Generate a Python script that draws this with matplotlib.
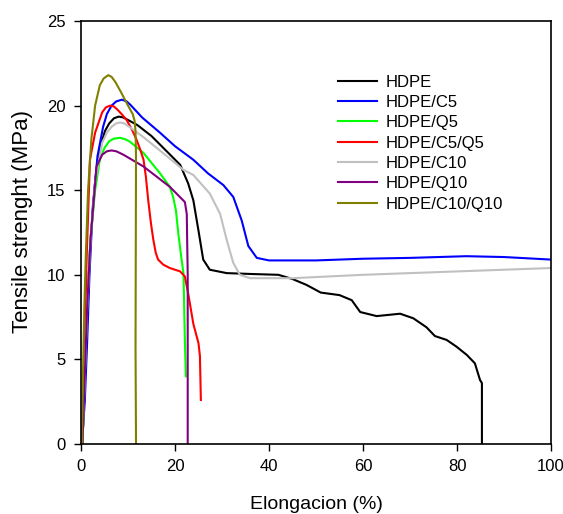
import matplotlib.pyplot as plt
import numpy as np

plt.rcParams['font.family'] = ['Liberation Sans', 'DejaVu Sans']

# curve data (elongation %, tensile MPa)
hdpe_x = [0.3, 0.8, 1.3, 2.0, 3.0, 4.0, 5.1, 6.0, 7.0, 8.0, 9.0, 10, 12, 15, 16.8, 21.1, 22.8, 23.9, 25, 26, 27.4, 31,
          36, 42, 45, 48, 51, 55, 57.6, 59.4, 62.9, 67.9, 70.7, 73.5, 75.3, 77.8, 79.9, 82.1, 83.8, 84.9, 85.3, 85.3]
hdpe_y = [0, 4, 8, 12, 15.5, 17.5, 18.5, 18.95, 19.25, 19.35, 19.3, 19.15, 18.85, 18.2, 17.7, 16.5, 15.4, 14.4, 12.6,
          10.9, 10.3, 10.1, 10.05, 10.0, 9.75, 9.4, 8.95, 8.8, 8.5, 7.8, 7.56, 7.7, 7.43, 6.9, 6.38, 6.15, 5.75, 5.26,
          4.77, 3.78, 3.6, 0]

c5_x = [0.2, 0.8, 1.3, 1.8, 2.5, 3.5, 4.7, 5.5, 6.5, 7.5, 8.7, 9.7, 10.5, 12, 13, 16.8, 20, 23.9, 27, 30.3, 32.4,
        34.2, 35.6, 37.4, 40, 50, 60, 70, 82, 90, 100]
c5_y = [0, 2.5, 6, 10, 14, 17, 18.75, 19.5, 20.0, 20.25, 20.35, 20.25, 20.05, 19.6, 19.3, 18.4, 17.6, 16.8, 16.0, 15.3,
        14.6, 13.2, 11.7, 11.0, 10.85, 10.85, 10.95, 11.0, 11.1, 11.05, 10.9]

q5_x = [0.3, 0.8, 1.3, 2.0, 3.0, 4.0, 5.0, 6.0, 7.0, 8.3, 9.5, 10.5, 13.3, 16.8, 18.9, 19.6, 20.2, 20.7, 21.4, 21.8,
        22.1, 22.3]
q5_y = [0, 4, 8, 12, 15, 16.8, 17.5, 17.9, 18.05, 18.1, 18.0, 17.85, 17.2, 16.0, 15.2, 14.6, 13.8, 12.45, 10.9, 10.1,
        6.1, 4.0]

c5q5_x = [0.3, 0.7, 1.2, 1.9, 3.0, 4.5, 5.3, 6.2, 7.0, 7.8, 8.8, 9.7, 10.8, 11.8, 12.6, 13.3, 13.8, 14.3, 14.9, 15.4,
          15.9, 16.4, 17.5, 18.9, 21.1, 22.1, 22.8, 23.9, 25, 25.3, 25.5]
c5q5_y = [0, 5, 11, 16.8, 18.4, 19.6, 19.9, 20.0, 19.95, 19.75, 19.45, 19.15, 18.6, 18.0, 17.4, 16.8, 15.8, 14.4, 13.0,
          12.05, 11.3, 10.9, 10.6, 10.4, 10.2, 9.9, 8.9, 7.1, 5.95, 5.2, 2.6]

c10_x = [0.3, 0.8, 1.3, 2.0, 3.0, 4.5, 5.5, 6.5, 7.5, 8.3, 9.2, 10, 13, 17, 21.8, 23.9, 27.4, 29.6, 31, 32.4, 33.8, 36,
         45, 60, 80, 100]
c10_y = [0, 4, 8, 12, 15.5, 17.8, 18.4, 18.75, 18.95, 19.0, 18.95, 18.8, 18.2, 17.3, 16.2, 15.9, 14.8, 13.6, 12.06,
         10.7, 10.0, 9.8, 9.8, 10.0, 10.2, 10.4]

q10_x = [0.3, 0.8, 1.3, 2.0, 3.3, 4.5, 5.5, 6.5, 7.5, 9, 13.3, 18.9, 22.1, 22.5, 22.7, 22.7]
q10_y = [0, 4, 8, 12, 16.4, 17.1, 17.3, 17.35, 17.3, 17.1, 16.4, 15.2, 14.3, 13.6, 10, 0]

c10q10_x = [0.2, 0.4, 0.7, 1.0, 1.5, 2.2, 3.0, 4.0, 4.8, 5.8, 6.5, 7.3, 8.5, 10, 11.0, 11.4, 11.6, 11.7, 11.6, 11.7]
c10q10_y = [0, 4, 8, 11, 15, 18, 20, 21.2, 21.6, 21.8, 21.7, 21.4, 20.8, 20.0, 19.5, 19.1, 18.5, 17, 5.7, 0]

labels = ['HDPE', 'HDPE/C5', 'HDPE/Q5', 'HDPE/C5/Q5', 'HDPE/C10', 'HDPE/Q10', 'HDPE/C10/Q10']
colors = ['black', '#0000ff', '#00ff00', '#ff0000', '#c0c0c0', '#800080', '#808000']
series = [(hdpe_x, hdpe_y), (c5_x, c5_y), (q5_x, q5_y), (c5q5_x, c5q5_y),
          (c10_x, c10_y), (q10_x, q10_y), (c10q10_x, c10q10_y)]

fig = plt.figure(figsize=(5.63, 5.14), dpi=100)
ax = fig.add_axes([0.1439, 0.1362, 0.8348, 0.8229])

for (x, y), lab, col in zip(series, labels, colors):
    ax.plot(x, y, color=col, lw=1.5, label=lab)

ax.set_xlim(0, 100)
ax.set_ylim(0, 25)
ax.set_xticks(np.arange(0, 101, 20))
ax.set_yticks(np.arange(0, 26, 5))
ax.tick_params(direction='out', length=5, width=1, labelsize=12, pad=6, top=False, right=False)
for s in ax.spines.values():
    s.set_linewidth(1.2)

ax.set_xlabel('Elongacion (%)', fontsize=14, labelpad=16)
ax.set_ylabel('Tensile strenght (MPa)', fontsize=16)
ax.yaxis.set_label_coords(-0.102, 0.527)

ax.legend(loc='upper left', bbox_to_anchor=(0.515, 0.909), frameon=False, fontsize=12,
          handlelength=2.35, labelspacing=0.32, handletextpad=0.48)

plt.savefig('out.png', dpi=100)
